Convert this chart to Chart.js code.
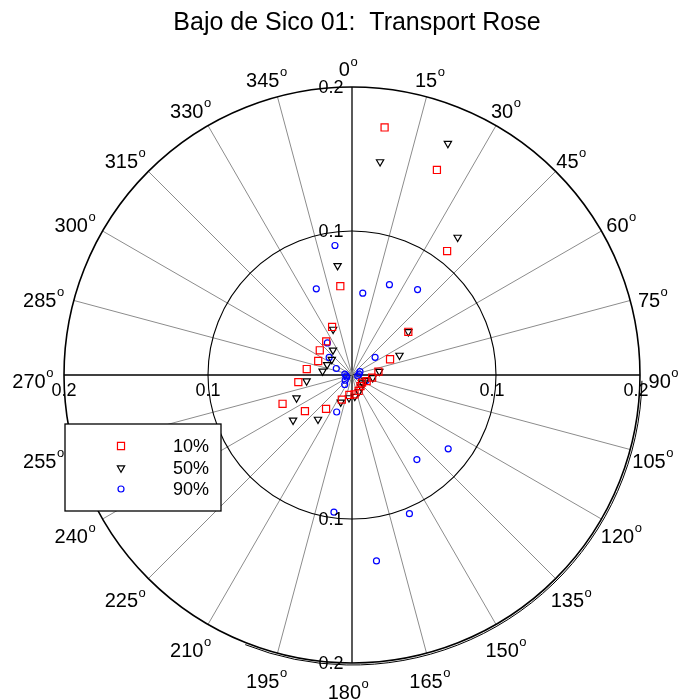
<!DOCTYPE html>
<html>
<head>
<meta charset="utf-8">
<script src="https://cdn.jsdelivr.net/npm/chart.js@4.4.0/dist/chart.umd.min.js"></script>
<style>
    html, body { margin: 0; padding: 0; background: #fff; }
    #wrap { width: 679px; height: 700px; }
</style>
</head>
<body>
<div id="wrap"><canvas id="rose" width="679" height="700"></canvas></div>
<script>
// sector mid directions (deg, clockwise from north)
const directions = [7.5, 22.5, 37.5, 52.5, 67.5, 82.5, 97.5, 112.5, 127.5, 142.5, 157.5, 172.5,
    187.5, 202.5, 217.5, 232.5, 247.5, 262.5, 277.5, 292.5, 307.5, 322.5, 337.5, 352.5];

const p10 = [0.1734, 0.1541, 0.1085, 0.0493, 0.0286, 0.0185, 0.0141, 0.0110, 0.0088, 0.0097, 0.0120, 0.0135,
    0.0140, 0.0185, 0.0296, 0.0412, 0.0522, 0.0376, 0.0317, 0.0254, 0.0282, 0.0294, 0.0361, 0.0622];
const p50 = [0.1493, 0.1740, 0.1205, 0.0493, 0.0357, 0.0191, 0.0145, 0.0100, 0.0091, 0.0105, 0.0125, 0.0150,
    0.0160, 0.0204, 0.0388, 0.0516, 0.0417, 0.0318, 0.0206, 0.0187, 0.0177, 0.0217, 0.0343, 0.0766];
const p90 = [0.0573, 0.0679, 0.0748, 0.0202, 0.0060, 0.0050, 0.0040, 0.0103, 0.0842, 0.0740, 0.1042, 0.1302,
    0.0961, 0.0278, 0.0083, 0.0060, 0.0040, 0.0040, 0.0050, 0.0118, 0.0200, 0.0281, 0.0648, 0.0907];

const seriesLabels = ["10%", "50%", "90%"];
const angleTicks = [0, 15, 30, 45, 60, 75, 90, 105, 120, 135, 150, 165, 180, 195, 210, 225, 240, 255, 270, 285, 300, 315, 330, 345];
const radialTicks = [0.1, 0.2];
const rMax = 0.2;
const titleText = "Bajo de Sico 01:  Transport Rose";

const FONT = "'Liberation Sans', Arial, sans-serif";

function toXY(dirs, mags) {
    return dirs.map((d, i) => {
        const a = d * Math.PI / 180;
        return { x: mags[i] * Math.sin(a), y: mags[i] * Math.cos(a) };
    });
}

// Grid, circles, labels, legend
const roseFrame = {
    id: "roseFrame",
    beforeDatasetsDraw(chart) {
        const ctx = chart.ctx;
        const xs = chart.scales.x, ys = chart.scales.y;
        const cx = xs.getPixelForValue(0), cy = ys.getPixelForValue(0);
        const R = xs.getPixelForValue(rMax) - cx;
        ctx.save();
        // spokes
        angleTicks.forEach((t) => {
            const a = t * Math.PI / 180;
            const axis = t % 90 === 0;
            ctx.strokeStyle = axis ? "#000" : "#8c8c8c";
            ctx.lineWidth = axis ? 1.3 : 1;
            ctx.beginPath();
            ctx.moveTo(cx, cy);
            ctx.lineTo(cx + R * Math.sin(a), cy - R * Math.cos(a));
            ctx.stroke();
        });
        // circles
        radialTicks.forEach((r) => {
            const rp = xs.getPixelForValue(r) - cx;
            ctx.strokeStyle = "#000";
            ctx.lineWidth = r === rMax ? 1.6 : 1.1;
            ctx.beginPath();
            ctx.arc(cx, cy, rp, 0, Math.PI * 2);
            ctx.stroke();
        });
        // slight doubled outer edge on the lower right
        ctx.lineWidth = 1;
        ctx.beginPath();
        ctx.arc(cx, cy, R + 2, 0.02, Math.PI * 0.62);
        ctx.stroke();
        ctx.restore();
    },
    afterDatasetsDraw(chart) {
        const ctx = chart.ctx;
        const xs = chart.scales.x, ys = chart.scales.y;
        const cx = xs.getPixelForValue(0), cy = ys.getPixelForValue(0);
        const R = xs.getPixelForValue(rMax) - cx;
        ctx.save();
        ctx.fillStyle = "#000";

        // title
        ctx.font = "25px " + FONT;
        ctx.textAlign = "center";
        ctx.textBaseline = "middle";
        ctx.fillText(titleText, 357, 23);

        // angle labels with superscript "o"
        angleTicks.forEach((t) => {
            const a = t * Math.PI / 180;
            const x = cx - 4 + R * 1.095 * Math.sin(a);
            const y = cy - R * 1.08 * Math.cos(a) + 5;
            ctx.font = "20px " + FONT;
            const w1 = ctx.measureText(String(t)).width;
            ctx.font = "13px " + FONT;
            const w2 = ctx.measureText("o").width;
            const x0 = x - (w1 + w2) / 2;
            ctx.textAlign = "left";
            ctx.font = "20px " + FONT;
            ctx.fillText(String(t), x0, y + 2);
            ctx.font = "13px " + FONT;
            ctx.fillText("o", x0 + w1 + 0.5, y - 7);
        });

        // radial tick labels
        ctx.font = "18px " + FONT;
        ctx.textAlign = "center";
        radialTicks.forEach((r) => {
            const rp = xs.getPixelForValue(r) - cx;
            const s = String(r);
            ctx.fillText(s, cx - 21, cy - rp + 1);
            ctx.fillText(s, cx - 21, cy + rp + 1);
            ctx.fillText(s, cx - rp, cy + 16);
            ctx.fillText(s, cx + rp - 4, cy + 16);
        });

        // legend
        const bx = 65, by = 424, bw = 156, bh = 87;
        ctx.fillStyle = "#fff";
        ctx.fillRect(bx, by, bw, bh);
        ctx.strokeStyle = "#000";
        ctx.lineWidth = 1.3;
        ctx.strokeRect(bx, by, bw, bh);
        const rowsY = [446, 468, 489];
        chart.data.datasets.forEach((ds, i) => {
            ctx.strokeStyle = ds.borderColor;
            ctx.fillStyle = "rgba(0,0,0,0)";
            ctx.lineWidth = ds.borderWidth;
            Chart.helpers.drawPoint(ctx, {
                pointStyle: ds.pointStyle,
                radius: ds.pointRadius,
                rotation: ds.rotation || 0,
                borderWidth: ds.borderWidth
            }, 121, rowsY[i]);
            ctx.fillStyle = "#000";
            ctx.font = "18px " + FONT;
            ctx.textAlign = "right";
            ctx.textBaseline = "middle";
            ctx.fillText(seriesLabels[i], 209, rowsY[i] + 1);
        });
        ctx.restore();
    }
};

const ctx = document.getElementById("rose").getContext("2d");

function markerSet(label, data, style, color, radius, rotation) {
    return {
        label: label,
        data: data,
        pointStyle: style,
        pointRadius: radius,
        pointHoverRadius: radius,
        rotation: rotation,
        borderColor: color,
        backgroundColor: "rgba(0,0,0,0)",
        borderWidth: 1.2,
        showLine: false
    };
}

new Chart(ctx, {
    type: "scatter",
    data: {
        datasets: [
            markerSet(seriesLabels[0], toXY(directions, p10), "rect", "#ff0000", 5, 0),
            markerSet(seriesLabels[1], toXY(directions, p50), "triangle", "#000000", 4.2, 180),
            markerSet(seriesLabels[2], toXY(directions, p90), "circle", "#0000ff", 3, 0)
        ]
    },
    options: {
        responsive: false,
        animation: false,
        clip: false,
        layout: { padding: { left: 64, right: 39, top: 87, bottom: 37 } },
        scales: {
            x: { type: "linear", min: -rMax, max: rMax, display: false },
            y: { type: "linear", min: -rMax, max: rMax, display: false }
        },
        plugins: {
            legend: { display: false },
            tooltip: { enabled: false },
            title: { display: false }
        }
    },
    plugins: [roseFrame]
});
</script>
</body>
</html>
